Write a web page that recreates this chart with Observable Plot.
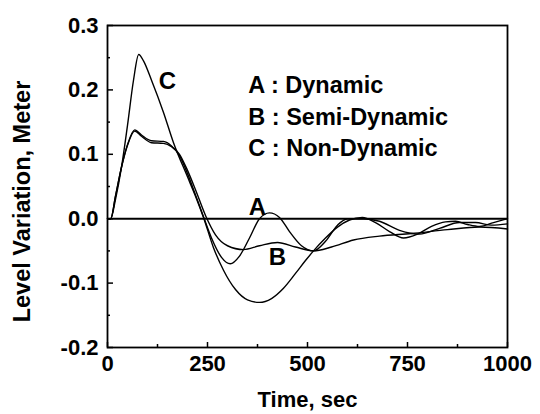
<!DOCTYPE html>
<html>
<head>
<meta charset="utf-8">
<script src="https://cdn.jsdelivr.net/npm/d3@7"></script>
<script src="https://cdn.jsdelivr.net/npm/@observablehq/plot@0.6"></script>
<style>
  html, body { margin: 0; padding: 0; background: #fff; }
  #chart { width: 540px; height: 414px; }
</style>
</head>
<body>
<div id="chart"></div>
<script>
// ---- Data ----
const tA = [0, 8, 20, 35, 50, 68, 85, 110, 140, 160, 180, 200, 220, 240, 260, 285, 307, 330, 355, 380, 405, 430, 455, 485, 515, 545, 575, 600, 640, 680, 730, 780, 830, 880, 920, 960, 1000];
const vA = [0, 0, 0.035, 0.08, 0.115, 0.138, 0.13, 0.121, 0.12, 0.113, 0.098, 0.07, 0.037, 0.003, -0.03, -0.06, -0.07, -0.058, -0.03, 0.0, 0.009, 0.002, -0.02, -0.042, -0.05, -0.035, -0.01, 0.0, 0.0, -0.004, -0.018, -0.024, -0.015, -0.006, -0.006, -0.01, -0.008];

const tB = [0, 8, 20, 35, 50, 68, 85, 110, 140, 160, 180, 200, 220, 245, 270, 300, 340, 380, 425, 470, 515, 560, 615, 680, 760, 850, 930, 1000];
const vB = [0, 0, 0.035, 0.08, 0.114, 0.136, 0.128, 0.118, 0.117, 0.112, 0.1, 0.075, 0.045, 0.005, -0.025, -0.042, -0.048, -0.042, -0.037, -0.044, -0.05, -0.044, -0.033, -0.027, -0.023, -0.017, -0.013, -0.016];

const tC = [0, 8, 20, 35, 50, 65, 78, 90, 110, 140, 165, 200, 220, 240, 265, 290, 320, 350, 380, 410, 440, 470, 495, 515, 545, 575, 605, 637, 670, 705, 740, 775, 810, 845, 870, 900, 930, 965, 1000];
const vC = [0, 0, 0.03, 0.08, 0.145, 0.215, 0.255, 0.245, 0.215, 0.165, 0.118, 0.065, 0.035, 0.002, -0.045, -0.08, -0.11, -0.126, -0.13, -0.124, -0.108, -0.085, -0.065, -0.05, -0.03, -0.013, -0.002, 0.002, -0.006, -0.02, -0.03, -0.024, -0.012, -0.005, -0.004, -0.009, -0.012, -0.006, 0.0];

const seriesNames = ["A", "B", "C"];
const legendLabels = ["A : Dynamic", "B : Semi-Dynamic", "C : Non-Dynamic"];
const legendY = [0.207, 0.157, 0.109];
const legendX = 352;

const curveLabels = ["C", "A", "B"];
const curveLabelX = [150, 375, 425];
const curveLabelY = [0.214, 0.018, -0.06];

const xMajor = [0, 250, 500, 750, 1000];
const xMinor = [125, 375, 625, 875];
const yMajor = [-0.2, -0.1, 0, 0.1, 0.2, 0.3];
const yMinor = [-0.15, -0.05, 0.05, 0.15, 0.25];

const xTitle = "Time, sec";
const yTitle = "Level Variation, Meter";

// ---- Build table ----
const rows = [];
[[tA, vA, "A"], [tB, vB, "B"], [tC, vC, "C"]].forEach(([t, v, s]) => {
  t.forEach((ti, i) => rows.push({series: s, t: ti, v: v[i]}));
});
const legendRows = legendLabels.map((l, i) => ({text: l, x: legendX, y: legendY[i]}));
const labelRows = curveLabels.map((l, i) => ({text: l, x: curveLabelX[i], y: curveLabelY[i]}));

const FONT = "'Liberation Sans', Arial, Helvetica, sans-serif";
const FS = 22;

const chart = Plot.plot({
  width: 540,
  height: 414,
  marginLeft: 107,
  marginRight: 33,
  marginTop: 25,
  marginBottom: 67,
  style: {fontFamily: FONT, background: "#fff", color: "#000", overflow: "visible"},
  x: {domain: [0, 1000]},
  y: {domain: [-0.2, 0.3]},
  marks: [
    // inward ticks
    Plot.axisX(xMajor, {anchor: "bottom", tickSize: 5, dy: -5, fill: "none", label: null, stroke: "#000", strokeWidth: 1.5}),
    Plot.axisX(xMinor, {anchor: "bottom", tickSize: 3, dy: -3, fill: "none", label: null, stroke: "#000", strokeWidth: 1.5}),
    Plot.axisY(yMajor, {anchor: "left", tickSize: 6, dx: 6, fill: "none", label: null, stroke: "#000", strokeWidth: 1.5}),
    Plot.axisY(yMinor, {anchor: "left", tickSize: 3, dx: 3, fill: "none", label: null, stroke: "#000", strokeWidth: 1.5}),
    // tick labels
    Plot.axisX(xMajor, {anchor: "bottom", tickSize: 0, tickPadding: 8, label: null, fontSize: FS, fontWeight: "bold", fill: "#000", tickFormat: d => String(d)}),
    Plot.axisY(yMajor, {anchor: "left", tickSize: 0, tickPadding: 9, label: null, fontSize: FS, fontWeight: "bold", fill: "#000", tickFormat: d => d.toFixed(1)}),
    // zero line
    Plot.ruleY([0], {stroke: "#000", strokeWidth: 2}),
    // curves
    Plot.line(rows, {x: "t", y: "v", z: "series", stroke: "#000", strokeWidth: 1.4, curve: "monotone-x"}),
    // frame
    Plot.frame({stroke: "#000", strokeWidth: 1.8}),
    // curve labels
    Plot.text(labelRows, {x: "x", y: "y", text: "text", fontSize: 24, fontWeight: "bold", fill: "#000"}),
    // legend
    Plot.text(legendRows, {x: "x", y: "y", text: "text", textAnchor: "start", fontSize: 23.5, fontWeight: "bold", fill: "#000"}),
    // axis titles
    Plot.text([xTitle], {frameAnchor: "bottom", textAnchor: "middle", dy: 59, text: d => d, fontSize: FS, fontWeight: "bold", fill: "#000"}),
    Plot.text([yTitle], {frameAnchor: "left", textAnchor: "middle", dx: -85, dy: 15, rotate: -90, text: d => d, fontSize: 23.5, fontWeight: "bold", fill: "#000"})
  ]
});
document.getElementById("chart").appendChild(chart);
</script>
</body>
</html>
